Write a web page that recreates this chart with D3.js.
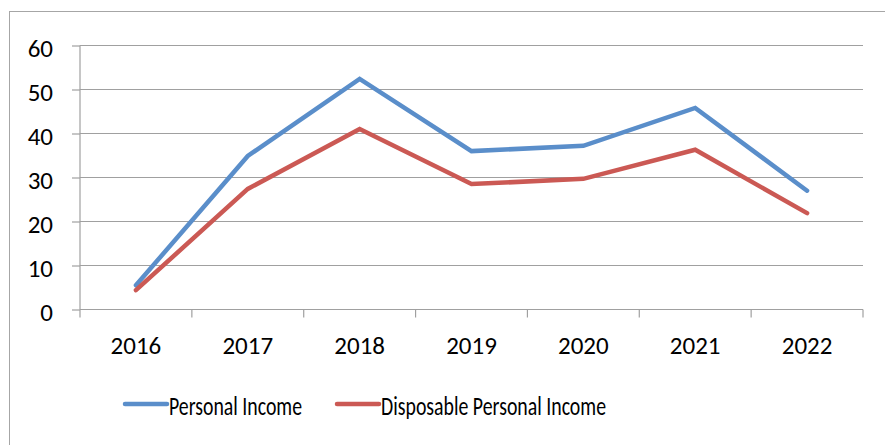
<!DOCTYPE html>
<html>
<head>
<meta charset="utf-8">
<script src="https://cdn.jsdelivr.net/npm/d3@7"></script>
<style>
  body { margin: 0; background: #fff; }
  svg { display: block; }
  text { font-family: Carlito, Calibri, Lato, "Open Sans", sans-serif; fill: #000; }
</style>
</head>
<body>
<svg id="svg" width="885" height="445"></svg>
<script>
"use strict";

// values
const years = ["2016", "2017", "2018", "2019", "2020", "2021", "2022"];
const personalIncome = [5.5, 34.9, 52.4, 36.0, 37.2, 45.8, 27.0];
const disposableIncome = [4.4, 27.4, 41.0, 28.5, 29.7, 36.3, 21.9];
const yTicks = [0, 10, 20, 30, 40, 50, 60];

const seriesNames = ["Personal Income", "Disposable Personal Income"];
const seriesColors = ["#5A8ECA", "#CB5954"];

const plotLeft = 80, plotRight = 863, plotTop = 45.5, plotBottom = 309.5;

var svg = d3.select("svg");

// chart frame (runs off the page on the right and bottom)
svg.append("rect")
    .attr("x", 9.5).attr("y", 11.5)
    .attr("width", 900).attr("height", 460)
    .attr("fill", "none")
    .attr("stroke", "#a6a6a6");

var x = d3.scaleBand().domain(years).range([plotLeft, plotRight]);
var y = d3.scaleLinear().domain([0, 60]).range([plotBottom, plotTop]);

// gridlines
svg.append("g")
    .selectAll("line")
    .data(yTicks.slice(1))
    .enter()
    .append("line")
        .attr("x1", plotLeft).attr("x2", plotRight)
        .attr("y1", d => y(d)).attr("y2", d => y(d))
        .attr("stroke", "#a0a0a0")
        .attr("stroke-width", 1.2);

// y axis
var yAxis = svg.append("g")
    .attr("transform", "translate(" + plotLeft + ",0)")
    .call(d3.axisLeft(y).tickValues(yTicks).tickSize(8).tickPadding(19));
yAxis.selectAll("line, path").attr("stroke", "#a0a0a0").attr("stroke-width", 1.2);
yAxis.select("path").attr("d", "M0," + plotTop + "V" + plotBottom);
yAxis.selectAll("text")
    .attr("font-size", 25)
    .attr("dy", "0.42em")
    .attr("fill", "#000")
    .style("font-family", "Carlito, Calibri, Lato, 'Open Sans', sans-serif");

// x axis, ticks between categories
var xAxis = svg.append("g")
    .attr("transform", "translate(0," + plotBottom + ")");
xAxis.append("line")
    .attr("x1", plotLeft).attr("x2", plotRight)
    .attr("stroke", "#a0a0a0").attr("stroke-width", 1.2);
xAxis.selectAll(".tick")
    .data(years.map(d => x(d)).concat([plotRight]))
    .enter()
    .append("line")
        .attr("x1", d => d).attr("x2", d => d)
        .attr("y1", 0).attr("y2", 8)
        .attr("stroke", "#a0a0a0").attr("stroke-width", 1.2);
xAxis.selectAll(".label")
    .data(years)
    .enter()
    .append("text")
        .attr("x", d => x(d) + x.bandwidth() / 2)
        .attr("y", 44)
        .attr("text-anchor", "middle")
        .attr("font-size", 25)
        .text(d => d);

// lines
var line = d3.line()
    .x((d, i) => x(years[i]) + x.bandwidth() / 2)
    .y(d => y(d));

svg.append("g")
    .selectAll("path")
    .data([personalIncome, disposableIncome])
    .enter()
    .append("path")
        .attr("d", line)
        .attr("fill", "none")
        .attr("stroke", (d, i) => seriesColors[i])
        .attr("stroke-width", 4.5)
        .attr("stroke-linejoin", "miter")
        .attr("stroke-linecap", "round");

// legend
const legendX = [125, 337];
const legendTextWidth = [133, 225];
var legend = svg.append("g")
    .selectAll("g")
    .data(seriesNames)
    .enter()
    .append("g")
        .attr("transform", (d, i) => "translate(" + legendX[i] + ",404)");
legend.append("line")
    .attr("x1", 0).attr("x2", 42)
    .attr("stroke", (d, i) => seriesColors[i])
    .attr("stroke-width", 4.5)
    .attr("stroke-linecap", "round");
legend.append("text")
    .attr("x", 44)
    .attr("y", 11)
    .attr("font-size", 26)
    .attr("textLength", (d, i) => legendTextWidth[i])
    .attr("lengthAdjust", "spacingAndGlyphs")
    .text(d => d);
</script>
</body>
</html>
